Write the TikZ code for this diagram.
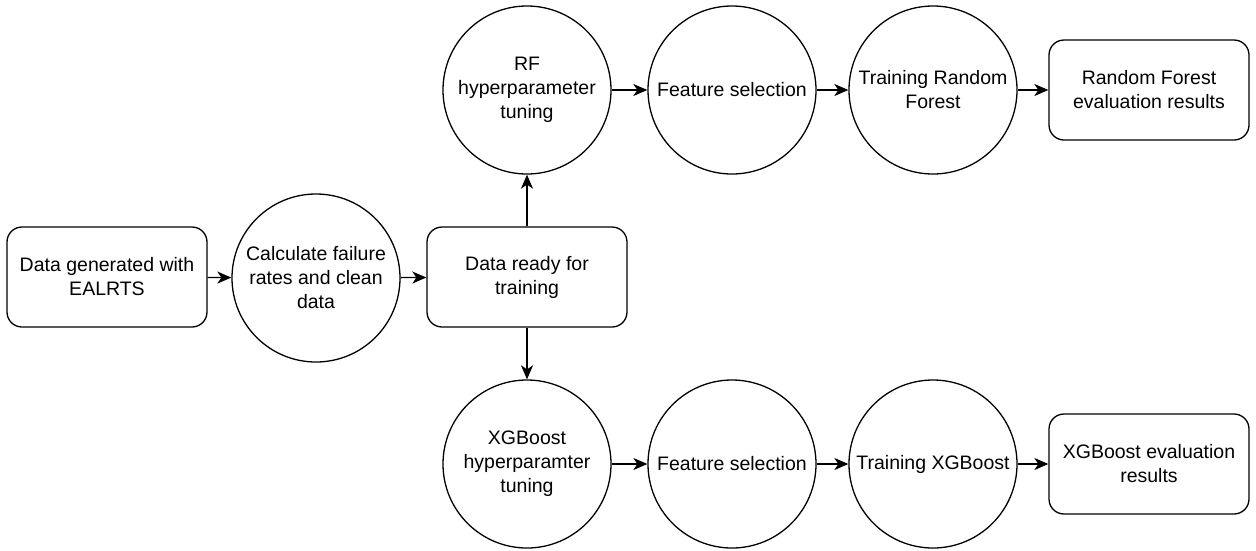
\documentclass[tikz,border=0pt]{standalone}
\usepackage{fontspec}
\setmainfont{Liberation Sans}
\usetikzlibrary{arrows.meta}
\begin{document}
\begin{tikzpicture}[x=1pt,y=-1pt,
  every node/.style={font=\fontsize{19.5}{24}\selectfont, align=center, line width=1.3pt, inner sep=0pt},
  stepbox/.style={draw, rounded corners=15pt, minimum width=200pt, minimum height=100pt},
  stage/.style={draw, circle, minimum size=168pt},
  flow/.style={line width=1.3pt, -{Stealth[length=14pt,width=12pt,inset=4pt]}}]
  \useasboundingbox (0,0) rectangle (1256,550);

  % input and preparation
  \node[stepbox] (gen)   at (107,277) {Data generated with\\EALRTS};
  \node[stage]   (clean) at (316,278) {Calculate failure\\rates and clean\\data};
  \node[stepbox] (ready) at (527,277) {Data ready for\\training};

  % random forest branch
  \node[stage]   (rftune) at (527,90)  {RF\\hyperparameter\\tuning};
  \node[stage]   (rffeat) at (732,90)  {Feature selection};
  \node[stage]   (rftrain) at (933,90) {Training Random\\Forest};
  \node[stepbox] (rfres) at (1149,90)  {Random Forest\\evaluation results};

  % xgboost branch
  \node[stage]   (xgtune) at (527,464)  {XGBoost\\hyperparamter\\tuning};
  \node[stage]   (xgfeat) at (732,464)  {Feature selection};
  \node[stage]   (xgtrain) at (933,464) {Training XGBoost};
  \node[stepbox] (xgres) at (1149,464)  {XGBoost evaluation\\results};

  \draw[flow] (gen) -- (clean);
  \draw[flow] (clean) -- (ready);
  \draw[flow] (ready) -- (rftune);
  \draw[flow] (ready) -- (xgtune);
  \draw[flow] (rftune) -- (rffeat);
  \draw[flow] (rffeat) -- (rftrain);
  \draw[flow] (rftrain) -- (rfres);
  \draw[flow] (xgtune) -- (xgfeat);
  \draw[flow] (xgfeat) -- (xgtrain);
  \draw[flow] (xgtrain) -- (xgres);
\end{tikzpicture}
\end{document}
